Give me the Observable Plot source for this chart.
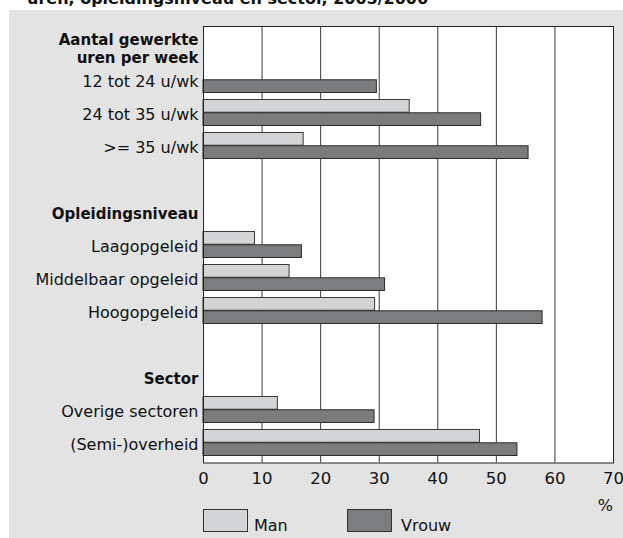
<!DOCTYPE html>
<html>
<head>
<meta charset="utf-8">
<script src="https://cdn.jsdelivr.net/npm/d3@7"></script>
<script src="https://cdn.jsdelivr.net/npm/@observablehq/plot@0.6"></script>
<style>
  body { margin: 0; background: #fff; font-family: "DejaVu Sans", sans-serif; color: #111; }
  #wrap { position: relative; width: 623px; height: 538px; overflow: hidden; }
  #panel { position: absolute; left: 9px; top: 10px; width: 614px; height: 528px; background: #e2e3e2; }
  #title { position: absolute; left: 27px; top: -9px; font-weight: bold; font-size: 16px; line-height: 16px; white-space: nowrap; }
  #chart { position: absolute; left: 0; top: 0; }
  .sw { position: absolute; width: 45px; height: 23px; box-sizing: border-box; border: 1px solid #333; }
  .lt { position: absolute; font-size: 16px; line-height: 16px; white-space: nowrap; }
</style>
</head>
<body>
<div id="wrap">
  <div id="panel"></div>
  <div id="title">uren, opleidingsniveau en sector, 2005/2006</div>
  <div id="chart"></div>
  <div id="legend"></div>
  <div class="lt" id="unit" style="right:10px; top:498px;"></div>
</div>
<script>
// ---- data ----
const groupHeaders = ["Aantal gewerkte\nuren per week", "Opleidingsniveau", "Sector"];
const groupCategories = [
  ["12 tot 24 u/wk", "24 tot 35 u/wk", ">= 35 u/wk"],
  ["Laagopgeleid", "Middelbaar opgeleid", "Hoogopgeleid"],
  ["Overige sectoren", "(Semi-)overheid"]
];
const manValues = [[null, 35.2, 17.1], [8.8, 14.7, 29.3], [12.7, 47.2]];
const vrouwValues = [[29.6, 47.4, 55.5], [16.8, 31.0, 57.9], [29.2, 53.6]];
const seriesNames = ["Man", "Vrouw"];
const xTicks = [0, 10, 20, 30, 40, 50, 60, 70];
const unitLabel = "%";

// ---- build table ----
const rowKeys = [];
const catRows = [];
const manData = [];
const vrouwData = [];
groupHeaders.forEach((h, g) => {
  rowKeys.push(h);
  groupCategories[g].forEach((c, i) => {
    rowKeys.push(c);
    catRows.push(c);
    if (manValues[g][i] != null) manData.push({row: c, value: manValues[g][i]});
    if (vrouwValues[g][i] != null) vrouwData.push({row: c, value: vrouwValues[g][i]});
  });
  if (g < groupHeaders.length - 1) rowKeys.push("gap-" + g);
});

const colors = {Man: "#d3d4d5", Vrouw: "#7b7c7d"};
const W = 623, H = 538, mTop = 26, mBottom = 75.5;
const band = (H - mTop - mBottom) / rowKeys.length;
const half = band / 2;
const edge = 3.5;

const chart = Plot.plot({
  width: W,
  height: H,
  marginLeft: 203,
  marginRight: 10,
  marginTop: mTop,
  marginBottom: mBottom,
  style: {background: "transparent", fontFamily: "DejaVu Sans", fontSize: "16px", color: "#111", overflow: "visible"},
  x: {domain: [0, 70], axis: null},
  y: {type: "band", domain: rowKeys, padding: 0, axis: null},
  marks: [
    Plot.frame({fill: "white"}),
    Plot.gridX(xTicks.slice(1, -1), {stroke: "#3a3a3a", strokeOpacity: 1, strokeWidth: 1}),
    Plot.barX(manData, {x: "value", y: "row", fill: colors.Man, stroke: "#3a3a3a", strokeWidth: 1, insetTop: edge, insetBottom: half}),
    Plot.barX(vrouwData, {x: "value", y: "row", fill: colors.Vrouw, stroke: "#2a2a2a", strokeWidth: 1, insetTop: half, insetBottom: edge}),
    Plot.frame({stroke: "#222", strokeWidth: 1}),
    Plot.axisX(xTicks, {tickSize: 0, tickPadding: 9.5, fontSize: 16.5, label: null}),
    Plot.text(catRows, {y: d => d, frameAnchor: "left", textAnchor: "end", dx: -5, dy: 1.5, fontSize: 16, fill: "#111"}),
    Plot.text(groupHeaders, {y: d => d, frameAnchor: "left", textAnchor: "end", dx: -5, dy: 1, fontSize: 15, fontWeight: "bold", lineHeight: 1.2, fill: "#111"})
  ]
});
document.getElementById("chart").appendChild(chart);

// ---- legend ----
const legend = document.getElementById("legend");
const legendPos = [{box: 203, text: 254}, {box: 347, text: 401}];
seriesNames.forEach((s, i) => {
  const b = document.createElement("div");
  b.className = "sw";
  b.style.left = legendPos[i].box + "px";
  b.style.top = "509px";
  b.style.background = colors[s];
  legend.appendChild(b);
  const t = document.createElement("div");
  t.className = "lt";
  t.style.left = legendPos[i].text + "px";
  t.style.top = "518px";
  t.textContent = s;
  legend.appendChild(t);
});
document.getElementById("unit").textContent = unitLabel;
</script>
</body>
</html>
